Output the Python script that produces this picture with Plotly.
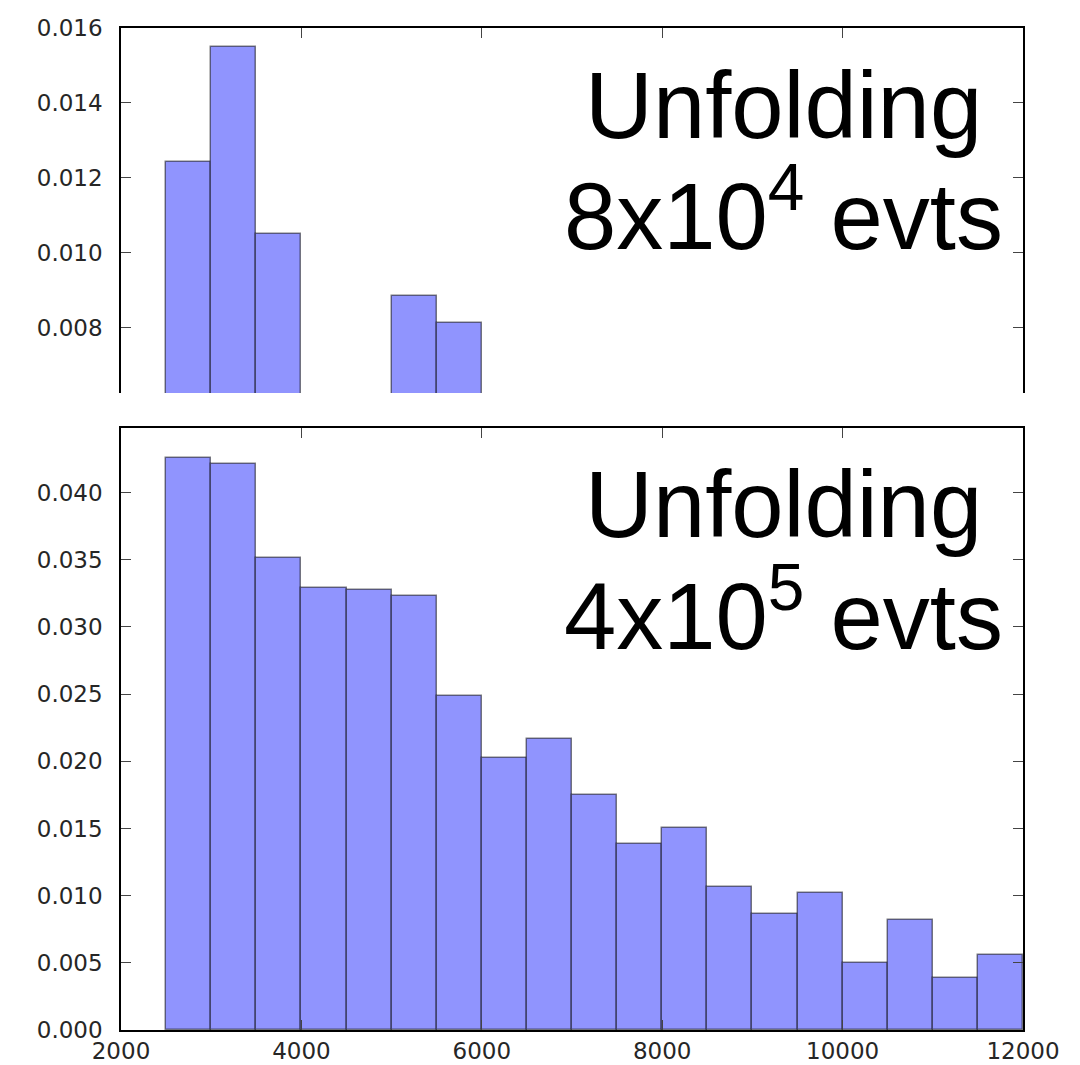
import plotly.graph_objects as go

# ---- data ----
bin_edges = [2500, 3000, 3500, 4000, 4500, 5000, 5500, 6000, 6500, 7000, 7500,
             8000, 8500, 9000, 9500, 10000, 10500, 11000, 11500, 12000]

# top panel (8x10^4 events): only bins above the visible y range can be read
top_values = [0.01242, 0.01550, 0.01050, None, None, 0.00885, 0.00811,
              None, None, None, None, None, None, None, None, None, None, None, None]

# bottom panel (4x10^5 events)
bottom_values = [0.04260, 0.04215, 0.03516, 0.03293, 0.03271, 0.03232, 0.02489,
                 0.02026, 0.02167, 0.01746, 0.01387, 0.01503, 0.01065, 0.00862,
                 0.01023, 0.00500, 0.00822, 0.00384, 0.00557]

top_yticks = [0.006, 0.008, 0.010, 0.012, 0.014, 0.016]
bottom_yticks = [0.000, 0.005, 0.010, 0.015, 0.020, 0.025, 0.030, 0.035, 0.040, 0.045]
xticks = [2000, 4000, 6000, 8000, 10000, 12000]
xticktext = ["2000", "4000", "6000", "8000", "10000", "12000"]

top_label = ["Unfolding", "8x10<sup>4</sup> evts"]
bottom_label = ["Unfolding", "4x10<sup>5</sup> evts"]

# ---- layout constants ----
W, H = 1080, 1065
L, R, T, B = 121, 1023, 28, 1030
def py(p):  # pixel row -> paper y
    return (B - p) / (B - T)
def px(p):
    return (p - L) / (R - L)

centers = [(a + b) / 2 for a, b in zip(bin_edges[:-1], bin_edges[1:])]
widths = [b - a for a, b in zip(bin_edges[:-1], bin_edges[1:])]

fill = "#9094fe"
edge = "rgba(0,0,0,0.5)"

fig = go.Figure()
fig.add_trace(go.Bar(x=centers, y=top_values, width=widths, xaxis="x", yaxis="y",
                     marker=dict(color=fill, line=dict(color=edge, width=1.5)),
                     showlegend=False))
fig.add_trace(go.Bar(x=centers, y=bottom_values, width=widths, xaxis="x2", yaxis="y2",
                     marker=dict(color=fill, line=dict(color=edge, width=1.5)),
                     showlegend=False))

tickfont = dict(family="DejaVu Sans", size=23, color="#262626")
axcommon = dict(showgrid=False, zeroline=False, ticks="inside", ticklen=10,
                tickwidth=1, tickcolor="#444", linecolor="black", linewidth=1.5,
                layer="above traces", tickfont=tickfont)

top_dom = [py(393), 1.0]
bot_dom = [0.0, py(428)]

fig.update_layout(
    width=W, height=H,
    margin=dict(l=L, r=W - R, t=T, b=H - B, autoexpand=False),
    paper_bgcolor="white", plot_bgcolor="white",
    bargap=0,
    xaxis=dict(domain=[0, 1], range=[2000, 12000], anchor="y", side="top",
               showline=True, tickvals=xticks, showticklabels=False, **axcommon),
    yaxis=dict(domain=top_dom, range=[0.00625, 0.016], anchor="x",
               showline=True, mirror="ticks", tickvals=top_yticks,
               tickformat=".3f", ticklabelstandoff=12, **axcommon),
    xaxis2=dict(domain=[0, 1], range=[2000, 12000], anchor="y2",
                showline=True, mirror="ticks", tickvals=xticks, ticktext=xticktext,
                ticklabelstandoff=0, **axcommon),
    yaxis2=dict(domain=bot_dom, range=[0, 0.0448], anchor="x2",
                showline=True, mirror="ticks", tickvals=bottom_yticks,
                tickformat=".3f", ticklabelstandoff=12, **axcommon),
)

ann_font = dict(family="Liberation Sans", size=94, color="black")
positions = [(top_label, 105, 209), (bottom_label, 504, 609)]
for lines, y1, y2 in positions:
    for text, yy in zip(lines, (y1, y2)):
        fig.add_annotation(text=text, xref="paper", yref="paper",
                           x=px(783), y=py(yy), xanchor="center", yanchor="middle",
                           showarrow=False, font=ann_font)

fig.write_html("out.html")
